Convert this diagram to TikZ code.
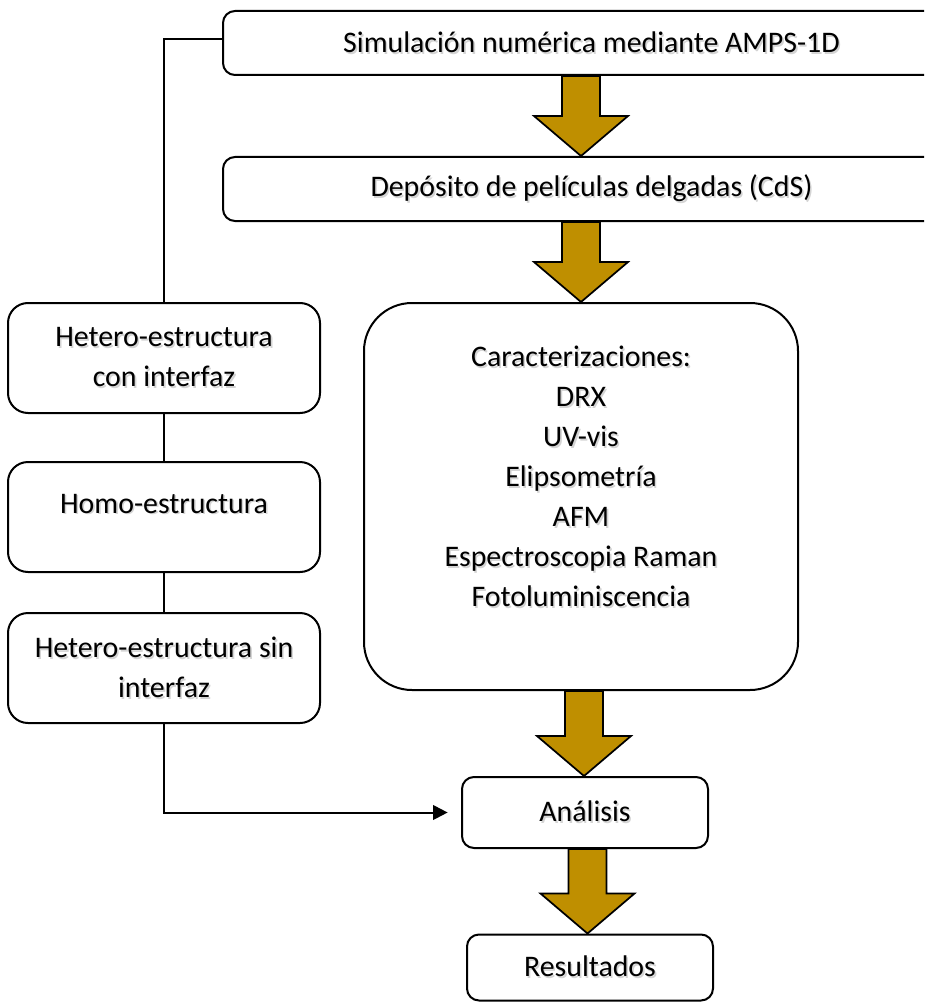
\documentclass[tikz,border=0pt]{standalone}
\usepackage{fontspec}
\setmainfont{Carlito}
\usetikzlibrary{calc,arrows.meta}
\definecolor{gold}{RGB}{191,143,0}
% text with a soft grey drop shadow
\newcommand\sh[1]{\makebox[0pt][l]{\kern1.2pt\raisebox{-1.3pt}{\textcolor{black!17}{#1}}}#1}
% thick block arrow between two stacked nodes, centred at x = #1
\newcommand\blockarrow[3]{%
  \draw[goldarrow] let \p1=(#2.south), \p2=(#3.north), \p3=(#1,0) in
    (\x3-14.25pt,\y1) -- (\x3+14.25pt,\y1) -- (\x3+14.25pt,\y2+30pt)
    -- (\x3+35.25pt,\y2+30pt) -- (\x3,\y2) -- (\x3-35.25pt,\y2+30pt)
    -- (\x3-14.25pt,\y2+30pt) -- cycle;}
\begin{document}
\begin{tikzpicture}[x=0.75pt,y=-0.75pt,
  box/.style={draw=black, line width=1.5pt, fill=white, align=center,
    inner sep=0pt, font=\fontsize{22.4pt}{30pt}\selectfont},
  smallbox/.style={box, rounded corners=9pt},
  sidebox/.style={box, rounded corners=15pt, minimum width=234pt, minimum height=82.5pt},
  bigbox/.style={box, rounded corners=36pt},
  goldarrow/.style={fill=gold, draw=black, line width=1.3pt, line join=miter},
  conn/.style={draw=black, line width=1.5pt}]
\useasboundingbox (0,0) rectangle (924,1002);
\clip (0,0) rectangle (924,1002);

% process column
\node[smallbox, minimum width=552.75pt, minimum height=48pt] (sim) at (591.5,43)
  {\sh{Simulación numérica mediante AMPS-1D}};
\node[smallbox, minimum width=552.75pt, minimum height=48pt] (dep) at (591.5,189)
  {\sh{Depósito de películas delgadas (CdS)}};
\node[bigbox, minimum width=325.5pt, minimum height=290.25pt] (car) at (581,496.5)
  {\sh{Caracterizaciones:}\\ \sh{DRX}\\ \sh{UV-vis}\\ \sh{Elipsometría}\\ \sh{AFM}\\
   \sh{Espectroscopia Raman}\\ \sh{Fotoluminiscencia}\\ \mbox{}};
\node[smallbox, minimum width=184.5pt, minimum height=53.25pt] (ana) at (585,812.5)
  {\sh{Análisis}};
\node[smallbox, minimum width=184.5pt, minimum height=49.5pt] (res) at (590,967.5)
  {\sh{Resultados}};

% structure column
\node[sidebox] (het1) at (164,358) {\sh{Hetero-estructura}\\ \sh{con interfaz}};
\node[sidebox] (homo) at (164,517) {\sh{Homo-estructura}\\[-10pt] \mbox{}};
\node[sidebox] (het2) at (164,668) {\sh{Hetero-estructura sin}\\ \sh{interfaz}};

% block arrows
\blockarrow{581}{sim}{dep}
\blockarrow{581}{dep}{car}
\blockarrow{584}{car}{ana}
\blockarrow{587.5}{ana}{res}

% thin connectors
\draw[conn] ([yshift=3pt]sim.west) -| (het1.north);
\draw[conn] (het1.south) -- (homo.north);
\draw[conn] (homo.south) -- (het2.north);
\draw[conn, -{Triangle[length=11pt,width=11pt]}, shorten >=10pt] (het2.south) |- (ana.west);
\end{tikzpicture}
\end{document}
